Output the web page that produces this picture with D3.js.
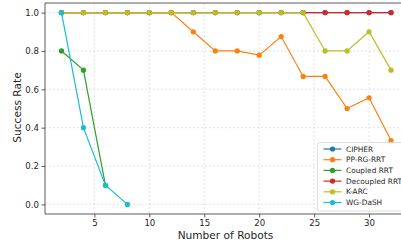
<!DOCTYPE html>
<html>
<head>
<meta charset="utf-8">
<script src="https://cdn.jsdelivr.net/npm/d3@7"></script>
<style>
  body { margin: 0; background: #fff; }
  svg { display: block; font-family: "DejaVu Sans", sans-serif; }
</style>
</head>
<body>
<div id="chart"></div>
<script>
// Series data (x = number of robots, y = success rate)
const seriesNames = ['CIPHER', 'PP-RG-RRT', 'Coupled RRT', 'Decoupled RRT', 'K-ARC', 'WG-DaSH'];
const seriesColors = ['#1f77b4', '#ff7f0e', '#2ca02c', '#d62728', '#bcbd22', '#17becf'];

const robotsFull = [2, 4, 6, 8, 10, 12, 14, 16, 18, 20, 22, 24, 26, 28, 30, 32];
const cipher = [1, 1, 1, 1, 1, 1, 1, 1, 1, 1, 1, 1, 1, 1, 1, 1];
const ppRgRrt = [1, 1, 1, 1, 1, 1, 0.9, 0.8, 0.8, 0.778, 0.875, 0.667, 0.667, 0.5, 0.556, 0.333];
const robotsCoupled = [2, 4, 6];
const coupledRrt = [0.8, 0.7, 0.1];
const decoupledRrt = [1, 1, 1, 1, 1, 1, 1, 1, 1, 1, 1, 1, 1, 1, 1, 1];
const kArc = [1, 1, 1, 1, 1, 1, 1, 1, 1, 1, 1, 1, 0.8, 0.8, 0.9, 0.7];
const robotsWg = [2, 4, 6, 8];
const wgDash = [1, 0.4, 0.1, 0];

const xTicks = [5, 10, 15, 20, 25, 30];
const yTicks = [0, 0.2, 0.4, 0.6, 0.8, 1.0];

const series = [
    { name: seriesNames[0], xs: robotsFull, ys: cipher },
    { name: seriesNames[1], xs: robotsFull, ys: ppRgRrt },
    { name: seriesNames[2], xs: robotsCoupled, ys: coupledRrt },
    { name: seriesNames[3], xs: robotsFull, ys: decoupledRrt },
    { name: seriesNames[4], xs: robotsFull, ys: kArc },
    { name: seriesNames[5], xs: robotsWg, ys: wgDash }
];

const W = 401, H = 245;
const margin = { top: 3, left: 45, bottom: 31 };
const plotRight = 407.5; // axes run past the cropped edge
const innerH = H - margin.top - margin.bottom;

const svg = d3.select('#chart').append('svg')
    .attr('width', W)
    .attr('height', H);

const x = d3.scaleLinear().domain([0.5, 33.5]).range([margin.left, plotRight]);
const y = d3.scaleLinear().domain([-0.05, 1.05]).range([margin.top + innerH, margin.top]);

// Grid lines
const grid = svg.append('g').attr('class', 'grid');
grid.selectAll('.gx').data(xTicks).enter().append('line')
    .attr('x1', d => x(d)).attr('x2', d => x(d))
    .attr('y1', margin.top).attr('y2', margin.top + innerH)
    .attr('stroke', '#dcdcdc').attr('stroke-width', 0.8).attr('stroke-dasharray', '2,2');
grid.selectAll('.gy').data(yTicks).enter().append('line')
    .attr('x1', margin.left).attr('x2', plotRight)
    .attr('y1', d => y(d)).attr('y2', d => y(d))
    .attr('stroke', '#dcdcdc').attr('stroke-width', 0.8).attr('stroke-dasharray', '2,2');

// Lines and markers
const line = d3.line().x(d => x(d[0])).y(d => y(d[1]));
series.forEach((s, i) => {
    const pts = s.xs.map((v, j) => [v, s.ys[j]]);
    const g = svg.append('g').attr('class', `series-${i}`);
    g.append('path')
        .datum(pts)
        .attr('d', line)
        .attr('fill', 'none')
        .attr('stroke', seriesColors[i])
        .attr('stroke-width', 1.2);
    g.selectAll('circle').data(pts).enter().append('circle')
        .attr('cx', d => x(d[0]))
        .attr('cy', d => y(d[1]))
        .attr('r', 2.6)
        .attr('fill', seriesColors[i]);
});

// Axes
const xAxis = svg.append('g')
    .attr('transform', `translate(0,${margin.top + innerH})`)
    .call(d3.axisBottom(x).tickValues(xTicks).tickSize(3.5).tickPadding(2.5).tickFormat(d3.format('d')));
const yAxis = svg.append('g')
    .attr('transform', `translate(${margin.left},0)`)
    .call(d3.axisLeft(y).tickValues(yTicks).tickSize(3.5).tickPadding(2.5).tickFormat(d3.format('.1f')));
[xAxis, yAxis].forEach(a => {
    a.select('.domain').remove();
    a.selectAll('line').attr('stroke', '#333').attr('stroke-width', 0.8);
    a.selectAll('text').attr('fill', '#262626').style('font-size', '8.6px').style('font-family', '"DejaVu Sans", sans-serif');
});

// Spines (left, top, bottom)
svg.append('path')
    .attr('d', `M${plotRight},${margin.top}H${margin.left}V${margin.top + innerH}H${plotRight}`)
    .attr('fill', 'none')
    .attr('stroke', '#333')
    .attr('stroke-width', 0.8);

// Axis labels
svg.append('text')
    .attr('x', 225.5)
    .attr('y', 238.5)
    .attr('text-anchor', 'middle')
    .attr('fill', '#262626')
    .style('font-size', '10.6px')
    .text('Number of Robots');
svg.append('text')
    .attr('transform', `translate(20.5,107.5) rotate(-90)`)
    .attr('text-anchor', 'middle')
    .attr('fill', '#262626')
    .style('font-size', '10.6px')
    .text('Success Rate');

// Legend
const legend = svg.append('g').attr('transform', 'translate(317.5,142.5)');
legend.append('rect')
    .attr('width', 100).attr('height', 68.5)
    .attr('rx', 2)
    .attr('fill', 'rgba(255,255,255,0.85)')
    .attr('stroke', '#d6d6d6').attr('stroke-width', 0.8);
seriesNames.forEach((name, i) => {
    const row = legend.append('g').attr('transform', `translate(0,${6.5 + i * 10.7})`);
    row.append('line')
        .attr('x1', 6).attr('x2', 24)
        .attr('stroke', seriesColors[i]).attr('stroke-width', 1.2);
    row.append('circle')
        .attr('cx', 15).attr('r', 2.6)
        .attr('fill', seriesColors[i]);
    row.append('text')
        .attr('x', 28.5).attr('y', 2.6)
        .attr('fill', '#262626')
        .style('font-size', '7.4px')
        .text(name);
});
</script>
</body>
</html>
